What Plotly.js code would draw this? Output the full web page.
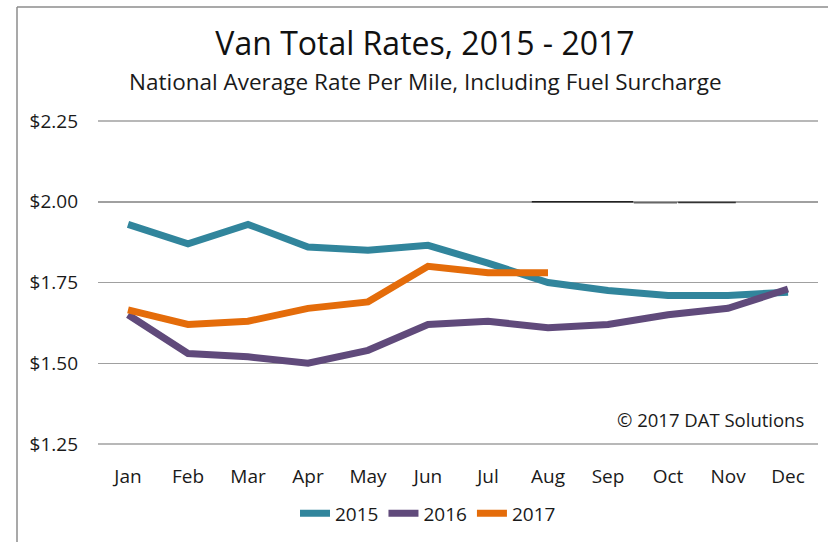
<!DOCTYPE html>
<html>
<head>
<meta charset="utf-8">
<script src="https://cdn.plot.ly/plotly-3.0.1.min.js"></script>
<style>html,body{margin:0;padding:0;background:#fff;}#chart{width:828px;height:542px;}</style>
</head>
<body>
<div id="chart"></div>
<script>
const months = ["Jan","Feb","Mar","Apr","May","Jun","Jul","Aug","Sep","Oct","Nov","Dec"];
const rates2015 = [1.93,1.87,1.93,1.86,1.85,1.865,1.81,1.75,1.725,1.71,1.71,1.72];
const rates2016 = [1.65,1.53,1.52,1.50,1.54,1.62,1.63,1.61,1.62,1.65,1.67,1.73];
const rates2017 = [1.665,1.62,1.63,1.67,1.69,1.80,1.78,1.78];
const tickVals = [1.25,1.50,1.75,2.00,2.25];
const tickText = ["$1.25","$1.50","$1.75","$2.00","$2.25"];

const FONT = "'Open Sans', 'Noto Sans', sans-serif";
const traces = [
  {x: months, y: rates2015, name: "2015", type: "scatter", mode: "lines", line: {color: "#31859C", width: 7}},
  {x: months, y: rates2016, name: "2016", type: "scatter", mode: "lines", line: {color: "#604A7B", width: 7}},
  {x: months.slice(0, rates2017.length), y: rates2017, name: "2017", type: "scatter", mode: "lines", line: {color: "#E46C0A", width: 7}}
];

const T = 121, B = 95, L = 98, H = 542 - T - B;
const GRID = "#a0a0a0";
const layout = {
  width: 828, height: 542,
  margin: {l: L, r: 10, t: T, b: B},
  paper_bgcolor: "#fff", plot_bgcolor: "#fff",
  font: {family: FONT, color: "#1a1a1a", size: 19},
  showlegend: true,
  title: {text: "Van Total Rates, 2015 - 2017", font: {size: 32, color: "#111"}, x: 425/828, xanchor: "center", y: 1 - 44/542, yanchor: "middle"},
  xaxis: {
    type: "category", range: [-0.5, 11.5], showgrid: false, zeroline: false, showline: false,
    ticks: "", tickfont: {size: 19}, ticklabelstandoff: 19, fixedrange: true
  },
  yaxis: {
    range: [1.25, 2.25], tickvals: tickVals, ticktext: tickText, showgrid: true,
    gridcolor: GRID, gridwidth: 1.5, zeroline: false, showline: false, ticks: "",
    tickfont: {size: 19}, ticklabelstandoff: 19, fixedrange: true
  },
  legend: {orientation: "h", x: (428-L)/720, xanchor: "center", y: -(517-447)/H, yanchor: "middle", font: {size: 19}, itemwidth: 30, tracegroupgap: 0},
  annotations: [
    {text: "National Average Rate Per Mile, Including Fuel Surcharge", xref: "paper", yref: "paper", x: (425-L)/720, y: 1 + (T-81)/H, xanchor: "center", yanchor: "middle", showarrow: false, font: {size: 22.5, color: "#1a1a1a"}},
    {text: "© 2017 DAT Solutions", xref: "paper", yref: "paper", x: (806-L)/720, y: (447-422)/H, xanchor: "right", yanchor: "middle", showarrow: false, font: {size: 18.5, color: "#1a1a1a"}}
  ],
  shapes: [
    {type: "line", xref: "paper", yref: "paper", x0: 0, x1: 1, y0: 1, y1: 1, line: {color: GRID, width: 1.5}, layer: "below"},
    {type: "line", xref: "paper", yref: "paper", x0: 0, x1: 1, y0: 0, y1: 0, line: {color: GRID, width: 1.5}, layer: "below"},
    {type: "line", xref: "paper", yref: "paper", x0: (17-L)/720, x1: (17-L)/720, y0: 1 + (T-6)/H, y1: -0.35, line: {color: "#8c8c8c", width: 1.5}},
    {type: "line", xref: "paper", yref: "paper", x0: (17-L)/720, x1: 1.02, y0: 1 + (T-6)/H, y1: 1 + (T-6)/H, line: {color: "#8c8c8c", width: 1.5}},
    {type: "line", xref: "x", yref: "y", x0: 6.73, x1: 8.42, y0: 2.0, y1: 2.0, line: {color: "#222", width: 1.5}},
    {type: "line", xref: "x", yref: "y", x0: 8.43, x1: 9.15, y0: 1.997, y1: 1.997, line: {color: "#666", width: 1.5}},
    {type: "line", xref: "x", yref: "y", x0: 9.17, x1: 10.13, y0: 1.998, y1: 1.998, line: {color: "#333", width: 1.5}}
  ]
};

Plotly.newPlot("chart", traces, layout, {displayModeBar: false, staticPlot: true});
</script>
</body>
</html>
